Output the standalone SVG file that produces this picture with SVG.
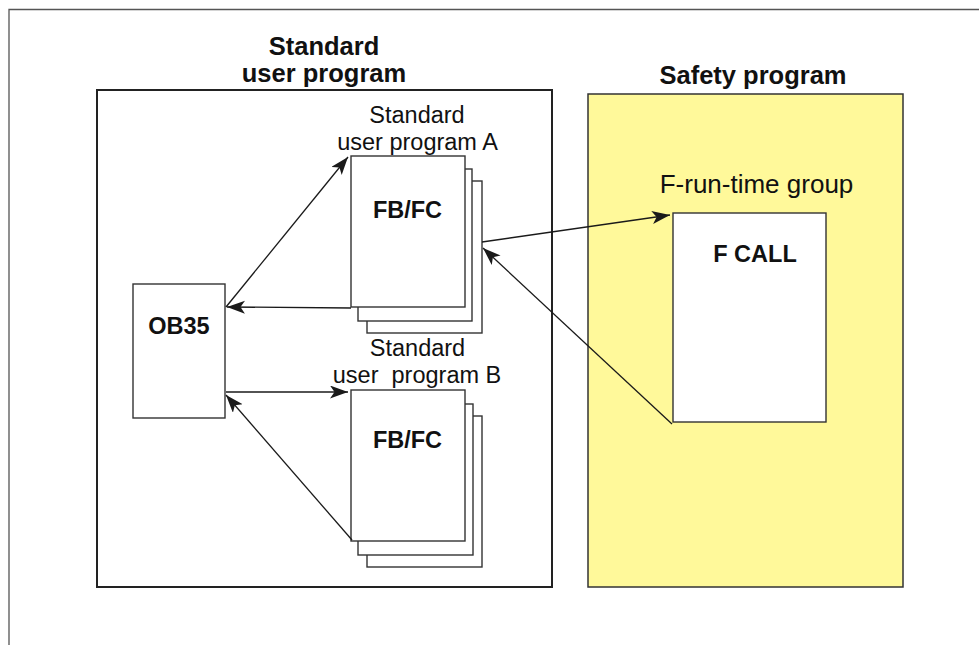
<svg xmlns="http://www.w3.org/2000/svg" width="979" height="645" viewBox="0 0 979 645">
<defs>
<style>
.frame{fill:none;stroke:#555;stroke-width:1.3}
.box{fill:#fff;stroke:#222;stroke-width:2}
.safety{fill:#fff99a;stroke:#333;stroke-width:1.5}
.page{fill:#fff;stroke:#333;stroke-width:1.4}
.conn{fill:none;stroke:#1a1a1a;stroke-width:1.3}
.tb{font-family:"Liberation Sans",Arial,sans-serif;font-weight:bold;fill:#111;text-anchor:middle}
.tr{font-family:"Liberation Sans",Arial,sans-serif;fill:#111;text-anchor:middle}
</style>
<marker id="arr" markerUnits="userSpaceOnUse" markerWidth="20" markerHeight="16" refX="18" refY="6.5" orient="auto">
<path d="M0,0 L18,6.5 L0,13 L4.5,6.5 z" fill="#1a1a1a"/>
</marker>
</defs>
<rect width="979" height="645" fill="#fff"/>
<path class="frame" d="M9,645 V9.5 H979"/>

<g id="standard-user-program">
<rect class="box" x="97" y="90" width="455" height="497"/>
<text class="tb" x="324" y="55" font-size="25.5">Standard</text>
<text class="tb" x="324" y="82" font-size="25.5">user program</text>
</g>

<g id="safety-program">
<rect class="safety" x="588" y="94" width="315" height="493"/>
<text class="tb" x="753" y="84" font-size="25.5">Safety program</text>
<text class="tr" x="756.5" y="193" font-size="26">F-run-time group</text>
</g>

<g id="fcall">
<rect class="page" x="673" y="213" width="153" height="209"/>
<text class="tb" x="755" y="262" font-size="23.5">F CALL</text>
</g>

<g id="ob35">
<rect class="page" x="133" y="284" width="92" height="134"/>
<text class="tb" x="179" y="334" font-size="23.5">OB35</text>
</g>

<g id="fbfc-a">
<text class="tr" x="417" y="123" font-size="23.5">Standard</text>
<text class="tr" x="417.5" y="150" font-size="23.5">user program A</text>
<rect class="page" x="367" y="181" width="115" height="152"/>
<rect class="page" x="358" y="169" width="114" height="152"/>
<rect class="page" x="351" y="156" width="114" height="151"/>
<text class="tb" x="407.5" y="218" font-size="23.5">FB/FC</text>
</g>

<g id="fbfc-b">
<text class="tr" x="417.5" y="356" font-size="23.5">Standard</text>
<text class="tr" x="417" y="383" font-size="23.5" xml:space="preserve">user  program B</text>
<rect class="page" x="367" y="416" width="115" height="151"/>
<rect class="page" x="358" y="404" width="115" height="151"/>
<rect class="page" x="351" y="390" width="114" height="151"/>
<text class="tb" x="407.5" y="448" font-size="23.5">FB/FC</text>
</g>

<g id="connectors">
<line class="conn" x1="226" y1="307" x2="348" y2="157" marker-end="url(#arr)"/>
<line class="conn" x1="351" y1="308" x2="227" y2="307" marker-end="url(#arr)"/>
<line class="conn" x1="226" y1="392" x2="348" y2="392" marker-end="url(#arr)"/>
<line class="conn" x1="352" y1="540" x2="226" y2="395" marker-end="url(#arr)"/>
<line class="conn" x1="482" y1="242" x2="670" y2="215" marker-end="url(#arr)"/>
<line class="conn" x1="672" y1="424" x2="483" y2="248" marker-end="url(#arr)"/>
</g>
</svg>
